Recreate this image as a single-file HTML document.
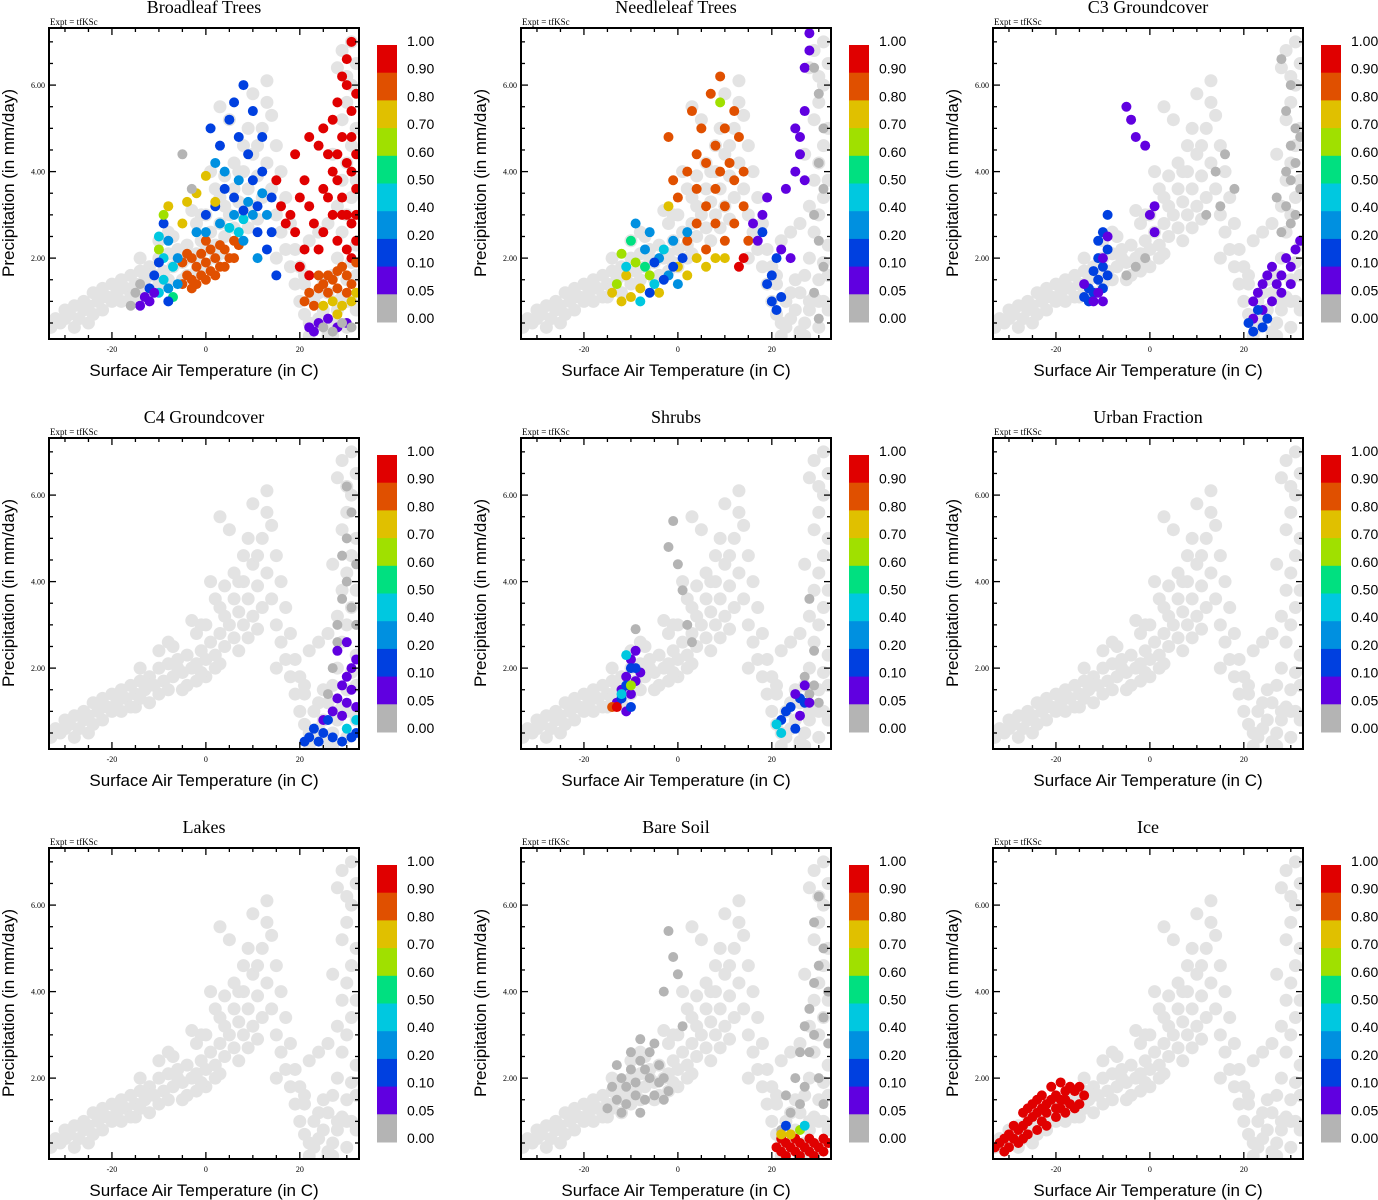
<!DOCTYPE html>
<html><head><meta charset="utf-8">
<style>
html,body{margin:0;padding:0;background:#fff;}
svg{display:block;}
text{fill:#000;}
.ttl{font-family:"Liberation Serif",serif;font-size:18px;}
.exp{font-family:"Liberation Serif",serif;font-size:9px;}
.tk{font-family:"Liberation Serif",serif;font-size:8px;}
.lab{font-family:"Liberation Sans",sans-serif;font-size:17px;}
.cb{font-family:"Liberation Sans",sans-serif;font-size:14px;}
</style></head>
<body>
<svg id="chart" width="1378" height="1200" viewBox="0 0 1378 1200" xmlns="http://www.w3.org/2000/svg"></svg>
<script>
// ---- data ----
const panelTitles = ["Broadleaf Trees","Needleleaf Trees","C3 Groundcover","C4 Groundcover","Shrubs","Urban Fraction","Lakes","Bare Soil","Ice"];
const cbLabels = ["1.00","0.90","0.80","0.70","0.60","0.50","0.40","0.20","0.10","0.05","0.00"];
const cbLevels = [1.0,0.9,0.8,0.7,0.6,0.5,0.4,0.2,0.1,0.05,0.0];
const cbColors = ["#e00000","#e05000","#e0c000","#a0e000","#00e080","#00c8e0","#0090e0","#0040e0","#6000e0","#b4b4b4"];
const xTicks = [-20,0,20];
const yTicks = [2,4,6];
// base cloud [temp, precip]
const baseT = [-33,-32,-31,-30,-29,-28,-27,-26,-25,-24,-23,-22,-21,-20,-19,-18,-17,-16,-15,-14,-13,-12,-11,-10,-9,-8,-7,-6,-5,-4,-3,-2,-1,0,1,2,3,4,5,6,7,8,9,10,11,12,13,14,15,16,17,18,19,20,21,22,23,
 -28,-25,-22,-18,-15,-12,-10,-8,-14,-10,-8,-5,-2,0,2,4,2,0,-2,6,8,5,3,12,14,10,13,8,10,16,17,18,15,19,20,21,22,23,24,
 26,27,28,29,30,31,32,26,27,28,29,30,31,32,28,29,30,31,32,29,30,31,28,29,30,27,26,25,24,27,30,32,31,32,31,
 -30,-26,-22,-18,-14,-12,-6,-4,-1,3,7,11,9,6,4,1,-3,-7,-16,-20,-24,15,13,11,9,7,3,-1,25,24,22,21,26,28,30,32];
const baseP = [0.4,0.6,0.5,0.8,0.7,0.9,0.6,1.0,0.9,1.2,1.0,1.3,1.1,1.4,1.2,1.5,1.3,1.6,1.4,1.7,1.5,1.8,1.6,2.0,1.7,2.1,1.8,2.2,1.9,2.3,2.0,2.1,2.4,2.2,2.6,2.3,2.8,2.5,3.0,2.7,3.3,3.0,3.6,3.2,3.9,3.4,4.2,3.6,3.0,2.6,2.2,1.8,1.4,1.0,0.7,0.5,0.4,
 0.4,0.5,0.8,1.0,1.1,1.2,1.4,1.5,2.0,2.4,2.6,1.5,1.7,1.8,2.0,3.2,3.6,3.0,2.8,4.2,4.6,5.2,5.5,5.0,5.3,5.8,6.1,4.0,4.4,4.0,3.4,2.8,2.0,2.2,1.8,1.4,2.4,1.0,0.6,
 0.3,0.5,0.8,1.1,1.5,1.9,2.3,1.2,1.6,2.0,2.6,3.0,3.4,3.8,3.2,3.8,4.2,4.6,5.0,5.2,5.6,6.0,6.4,6.8,6.2,4.4,2.8,1.5,1.2,0.2,0.4,0.8,1.0,6.5,7.0,
 0.6,0.8,1.1,1.3,1.3,1.6,2.0,1.6,1.9,2.1,2.4,2.9,2.7,3.6,3.9,4.0,3.1,2.5,1.1,1.0,0.7,4.6,5.6,4.6,5.0,4.0,3.4,3.0,0.8,2.6,0.2,1.6,0.2,1.0,1.0,1.6];
// overlays per panel: temps, precips, fraction values
const blT=[22,24,25,26,27,28,29,30,31,30,31,32,29,30,31,32,28,29,30,31,32,27,26,25,24,23,22,21,20,19,18,17,16,15,19,21,20,22,28,31,32,30,27,25,29,32,31,28,
 21,22,23,24,25,26,27,28,29,30,31,32,26,28,30,24,25,27,29,31,32,28,22,24,23,26,28,30,27,29,31,25,
 -5,-4,-3,-2,-1,0,1,2,3,4,5,6,-5,-4,-3,-2,-1,0,1,2,3,4,-3,0,6,7,
 -10,-9,-8,-7,-6,-9,-8,-7,-10,-6,5,7,8,
 -12,-11,-10,-8,-9,0,2,4,6,8,10,12,14,11,13,9,7,5,3,6,8,10,12,1,14,15,11,
 0,3,6,9,12,2,4,7,10,8,11,-2,13,-14,-13,-12,-11,-8,-4,-2,-5,2,0,-9,-10,-16,-15,-14,-5,-3];
const blP=[4.8,4.6,5.0,4.4,5.2,5.6,6.2,6.6,7.0,6.0,5.4,5.8,4.8,4.2,4.0,3.6,3.8,3.4,3.0,2.8,3.0,3.0,3.4,2.6,2.2,2.8,3.2,3.8,3.4,2.6,3.0,2.8,3.2,3.8,4.4,2.2,1.8,1.6,2.4,2.0,2.4,2.2,4.0,3.6,3.0,4.4,4.8,4.4,
 1.0,1.2,0.9,1.3,1.4,1.6,1.5,1.7,1.8,1.6,1.4,1.9,1.2,1.3,1.2,1.6,0.9,1.0,0.9,1.0,1.2,0.7,0.4,0.5,0.3,0.6,0.4,0.5,0.3,0.5,0.4,0.4,
 1.4,1.6,1.5,1.8,1.6,1.9,1.7,2.0,1.8,2.2,2.0,2.4,1.9,2.1,2.0,1.4,2.1,1.5,2.2,1.6,2.3,1.8,1.3,2.4,2.0,2.3,
 1.2,1.5,1.3,1.8,1.4,2.0,2.4,1.1,2.5,2.0,2.7,2.6,2.9,
 1.3,1.6,1.9,1.0,2.8,3.0,3.2,3.6,3.4,3.1,3.8,4.0,3.4,2.6,2.2,4.4,4.8,5.2,4.6,5.6,6.0,5.4,4.8,5.0,2.6,1.6,3.2,
 2.6,2.8,3.0,3.3,3.5,4.2,4.0,3.8,3.0,2.4,2.0,2.6,3.0,0.9,1.1,1.0,1.2,3.2,3.3,3.5,2.8,3.3,3.9,3.0,2.2,0.9,1.2,1.4,4.4,3.6];
const blV=[0.95,0.95,0.95,0.95,0.95,0.95,0.95,0.95,0.95,0.95,0.95,0.95,0.95,0.95,0.95,0.95,0.95,0.95,0.95,0.95,0.95,0.95,0.95,0.95,0.95,0.95,0.95,0.95,0.95,0.95,0.95,0.95,0.95,0.95,0.95,0.95,0.95,0.95,0.95,0.95,0.95,0.95,0.95,0.95,0.95,0.95,0.95,0.95,
 0.85,0.85,0.85,0.85,0.85,0.85,0.85,0.85,0.85,0.85,0.85,0.85,0.85,0.85,0.85,0.85,0.75,0.75,0.75,0.75,0.75,0.75,0.07,0.07,0.07,0.07,0.07,0.07,0.0,0.0,0.0,0.0,
 0.85,0.85,0.85,0.85,0.85,0.85,0.85,0.85,0.85,0.85,0.85,0.85,0.85,0.85,0.85,0.85,0.85,0.85,0.85,0.85,0.85,0.85,0.85,0.85,0.85,0.85,
 0.45,0.45,0.3,0.45,0.3,0.45,0.3,0.55,0.45,0.3,0.45,0.45,0.45,
 0.15,0.15,0.15,0.15,0.15,0.15,0.15,0.15,0.15,0.15,0.15,0.15,0.15,0.15,0.15,0.15,0.15,0.15,0.15,0.15,0.15,0.15,0.15,0.15,0.15,0.15,0.15,
 0.3,0.3,0.3,0.3,0.3,0.3,0.3,0.3,0.3,0.3,0.3,0.3,0.3,0.07,0.07,0.07,0.07,0.75,0.75,0.75,0.75,0.75,0.75,0.65,0.65,0.0,0.0,0.0,0.0,0.0];
const nlT=[2,4,6,8,10,12,14,6,8,10,4,2,0,3,5,7,9,12,13,11,8,10,12,14,15,6,4,-2,-1,9,
 -12,-14,-10,-8,-11,0,2,4,-4,6,-2,8,10,-13,-9,-12,-6,9,-10,-7,-11,-8,-5,-3,
 -9,-6,-4,-2,0,-7,2,-1,-5,-3,-1,1,-6,18,19,20,21,22,20,21,
 16,18,17,22,24,23,25,26,27,26,25,27,28,27,28,19,14,13,29,30,30,31,29,30,31,29,30,31];
const nlP=[2.4,2.8,3.2,3.6,3.2,3.8,4.0,4.2,4.6,5.0,4.4,4.0,3.4,5.4,5.0,5.8,6.2,5.4,4.8,4.2,2.8,2.4,2.8,3.2,2.4,2.2,3.6,4.8,3.8,4.0,
 1.0,1.2,1.1,1.3,1.6,1.8,1.6,2.0,1.2,1.8,3.2,2.0,2.0,1.4,1.9,2.1,1.6,5.6,2.4,1.8,1.8,1.0,1.4,2.2,
 2.8,2.6,2.0,1.6,1.4,2.2,2.6,2.4,1.9,1.5,1.8,2.0,1.2,2.6,1.4,1.0,0.8,1.1,1.6,2.0,
 2.8,3.0,2.4,2.2,2.0,3.6,4.0,4.4,3.8,4.8,5.0,6.4,6.8,5.4,7.2,3.4,2.0,1.8,6.4,5.8,4.2,3.6,3.0,2.4,1.8,1.2,0.6,5.0];
const nlV=[0.85,0.85,0.85,0.85,0.85,0.85,0.85,0.85,0.85,0.85,0.85,0.85,0.85,0.85,0.85,0.85,0.85,0.85,0.85,0.85,0.85,0.85,0.85,0.85,0.85,0.85,0.85,0.85,0.85,0.85,
 0.75,0.75,0.75,0.75,0.75,0.75,0.75,0.75,0.75,0.75,0.75,0.75,0.75,0.65,0.65,0.65,0.65,0.65,0.55,0.55,0.45,0.45,0.45,0.45,
 0.3,0.3,0.3,0.3,0.3,0.3,0.3,0.3,0.15,0.15,0.15,0.15,0.15,0.15,0.15,0.15,0.15,0.15,0.15,0.15,
 0.07,0.07,0.07,0.07,0.07,0.07,0.07,0.07,0.07,0.07,0.07,0.07,0.07,0.07,0.07,0.07,0.95,0.95,0.0,0.0,0.0,0.0,0.0,0.0,0.0,0.0,0.0,0.0];
const c3T=[-14,-13,-12,-11,-10,-9,-10,-9,-11,-12,-13,-10,-9,-11,-14,-12,-11,-10,-9,-10,-5,-4,-3,-1,0,1,1,-5,-3,-1,14,16,15,18,12,
 22,23,24,25,26,27,28,29,30,31,26,28,30,32,24,22,21,22,23,24,25,28,29,30,31,32,30,31,29,30,28,31,32,30,29,27];
const c3P=[1.1,1.3,1.2,1.5,1.8,2.2,2.6,3.0,2.0,1.7,1.0,1.3,1.6,2.4,1.4,1.0,1.2,2.0,2.5,1.0,5.5,5.2,4.8,4.6,3.0,2.6,3.2,1.6,1.8,2.0,4.0,4.4,3.2,3.6,3.0,
 1.0,1.2,1.4,1.6,1.8,1.4,1.6,2.0,1.8,2.2,1.0,1.2,1.4,2.4,0.8,0.6,0.5,0.3,0.8,0.4,0.6,2.6,3.2,3.8,4.2,3.6,4.6,5.0,5.4,6.0,6.6,3.0,4.8,2.8,4.0,3.4];
const c3V=[0.15,0.15,0.15,0.15,0.15,0.15,0.15,0.15,0.15,0.15,0.15,0.15,0.15,0.15,0.07,0.07,0.07,0.07,0.07,0.07,0.07,0.07,0.07,0.07,0.07,0.07,0.07,0.0,0.0,0.0,0.0,0.0,0.0,0.0,0.0,
 0.07,0.07,0.07,0.07,0.07,0.07,0.07,0.07,0.07,0.07,0.07,0.07,0.07,0.07,0.07,0.07,0.15,0.15,0.15,0.15,0.15,0.0,0.0,0.0,0.0,0.0,0.0,0.0,0.0,0.0,0.0,0.0,0.0,0.0,0.0,0.0];
const c4T=[27,28,29,30,31,32,30,31,30,29,28,32,26,25,27,28,29,30,31,32,30,31,32,29,28,30,21,22,24,25,27,29,31,32,23,26,30,32];
const c4P=[2.0,3.0,3.6,4.0,3.4,4.4,5.0,5.6,6.2,4.6,2.6,3.0,1.4,0.8,1.0,1.3,1.6,1.8,2.0,2.2,1.2,1.5,1.1,0.9,2.4,2.6,0.3,0.4,0.3,0.5,0.4,0.3,0.4,0.5,0.6,0.8,0.6,0.8];
const c4V=[0,0,0,0,0,0,0,0,0,0,0,0,0,0.07,0.07,0.07,0.07,0.07,0.07,0.07,0.07,0.07,0.07,0.07,0.07,0.07,0.15,0.15,0.15,0.15,0.15,0.15,0.15,0.15,0.15,0.15,0.45,0.45];
const shT=[-9,-1,-2,0,1,2,3,27,28,29,30,28,29,-13,-12,-11,-10,-9,-10,-9,-8,-11,-12,-11,-10,-9,-10,-12,-11,-10,-14,-13,22,23,24,25,26,27,25,26,27,28,21,22];
const shP=[2.9,5.4,4.8,4.4,3.8,3.0,2.6,1.8,1.4,1.6,1.2,3.6,2.4,1.2,1.5,1.8,2.2,2.4,1.4,1.7,1.9,1.0,1.3,1.6,2.0,2.0,1.1,1.4,2.3,1.6,1.1,1.1,0.8,1.0,1.1,0.6,1.3,1.2,1.4,0.9,1.6,1.2,0.7,0.5];
const shV=[0,0,0,0,0,0,0,0,0,0,0,0,0,0.07,0.07,0.07,0.07,0.07,0.07,0.07,0.07,0.07,0.15,0.15,0.15,0.15,0.15,0.45,0.45,0.65,0.85,0.95,0.15,0.15,0.15,0.15,0.15,0.15,0.07,0.07,0.07,0.07,0.45,0.45];
const bsT=[-15,-13,-11,-9,-7,-5,-3,-14,-12,-10,-8,-6,-4,-12,-8,-10,-8,-6,-4,-13,-9,-7,-5,-3,-11,-2,-2,-1,0,1,-3,
 22,24,23,25,26,27,28,29,30,31,29,30,31,28,32,27,30,32,29,31,26,
 21,22,23,24,25,26,27,28,29,30,31,32,23,26,29,22,25,28,31,22,24,26,23,27];
const bsP=[1.3,1.5,1.4,1.6,1.5,1.6,1.5,1.8,2.0,2.2,2.4,2.0,1.9,1.2,1.2,2.6,2.9,2.6,2.3,2.3,1.9,2.2,2.8,2.0,1.8,1.7,5.4,4.8,4.4,3.2,4.0,
 0.8,1.2,1.6,2.0,2.6,3.2,3.6,4.2,4.6,5.0,5.6,6.2,3.4,2.6,4.0,1.8,2.0,2.8,3.0,1.4,1.4,
 0.4,0.3,0.5,0.4,0.3,0.5,0.4,0.3,0.5,0.4,0.6,0.5,0.2,0.2,0.2,0.6,0.6,0.6,0.3,0.7,0.7,0.8,0.9,0.9];
const bsV=[0,0,0,0,0,0,0,0,0,0,0,0,0,0,0,0,0,0,0,0,0,0,0,0,0,0,0,0,0,0,0,
 0,0,0,0,0,0,0,0,0,0,0,0,0,0,0,0,0,0,0,0,0,
 0.95,0.95,0.95,0.95,0.95,0.95,0.95,0.95,0.95,0.95,0.95,0.95,0.95,0.95,0.95,0.95,0.95,0.95,0.95,0.75,0.75,0.65,0.15,0.45];
const icT=[-33,-32,-31,-30,-29,-28,-27,-26,-25,-24,-23,-22,-21,-20,-19,-18,-17,-16,-15,-14,-30,-28,-26,-24,-22,-20,-18,-16,-29,-27,-25,-23,-21,-19,-17,-15,-31,-27,-23,-19,-24,-20,-22,-26,-18];
const icP=[0.4,0.5,0.6,0.7,0.6,0.8,0.9,1.0,1.1,1.2,1.3,1.4,1.5,1.6,1.5,1.7,1.8,1.7,1.8,1.6,0.4,0.5,0.7,0.8,0.9,1.1,1.2,1.3,0.9,1.2,1.4,1.6,1.8,1.9,1.4,1.4,0.3,0.6,1.0,1.3,1.5,1.3,1.2,1.3,1.5];
const icV=icT.map(()=>0.95);
const overT=[blT,nlT,c3T,c4T,shT,[],[],bsT,icT];
const overP=[blP,nlP,c3P,c4P,shP,[],[],bsP,icP];
const overV=[blV,nlV,c3V,c4V,shV,[],[],bsV,icV];

// ---- drawing ----
const svg=document.getElementById('chart');
const NS='http://www.w3.org/2000/svg';
function mk(tag,attrs,parent){const e=document.createElementNS(NS,tag);for(const k in attrs)e.setAttribute(k,attrs[k]);(parent||svg).appendChild(e);return e;}
const PW=310,PH=311,XMIN=-33.4,XMAX=32.6,YMIN=0.13,YMAX=7.32;
function colorFor(v){for(let i=0;i<cbLevels.length-1;i++){if(v>=cbLevels[i+1]&&v<=cbLevels[i]) return cbColors[i];}return cbColors[cbColors.length-1];}
panelTitles.forEach((title,idx)=>{
  const c=idx%3,r=Math.floor(idx/3);
  const x0=49+472*c,y0=28+410*r;
  const sx=t=>x0+(t-XMIN)/(XMAX-XMIN)*PW;
  const sy=p=>y0+PH-(p-YMIN)/(YMAX-YMIN)*PH;
  const g=mk('g',{});
  
  
  const t=mk('text',{x:x0+155,y:y0-15,'text-anchor':'middle',class:'ttl'},g);t.textContent=title;
  
  
  const ex=mk('text',{x:x0+1,y:y0-3,class:'exp'},g);ex.textContent='Expt = tfKSc';
  
  
  const clip='clip'+idx;
  const cp=mk('clipPath',{id:clip},g);mk('rect',{x:x0,y:y0,width:PW,height:PH},cp);
  const pts=mk('g',{'clip-path':'url(#'+clip+')'},g);
  for(let i=0;i<baseT.length;i++){
    const d=mk('circle',{cx:sx(baseT[i]),cy:sy(baseP[i]),r:6.5,fill:'#e3e3e3'},pts);
    
    
  }
  const T=overT[idx],P=overP[idx],V=overV[idx];
  for(let i=0;i<T.length;i++){
    const d=mk('circle',{cx:sx(T[i]),cy:sy(P[i]),r:5,fill:colorFor(V[i])},pts);
    
    
  }
  // frame
  const fr=mk('rect',{x:x0,y:y0,width:PW,height:PH,fill:'none',stroke:'#000','stroke-width':2},g);
  
  
  for(let v=-30;v<=30;v+=5){const X=sx(v),L=(v%20===0)?7:4;mk('line',{x1:X,x2:X,y1:y0+PH,y2:y0+PH-L,stroke:'#000','stroke-width':1.3},g);mk('line',{x1:X,x2:X,y1:y0,y2:y0+L,stroke:'#000','stroke-width':1.3},g);}
  for(let v=0.5;v<=7;v+=0.5){const Y=sy(v),L=(v%2===0)?7:4;mk('line',{x1:x0,x2:x0+L,y1:Y,y2:Y,stroke:'#000','stroke-width':1.3},g);mk('line',{x1:x0+PW,x2:x0+PW-L,y1:Y,y2:Y,stroke:'#000','stroke-width':1.3},g);}
  xTicks.forEach(v=>{const tl=mk('text',{x:sx(v),y:y0+PH+13,'text-anchor':'middle',class:'tk'},g);tl.textContent=String(v);
    
    });
  yTicks.forEach(v=>{const tl=mk('text',{x:x0-4,y:sy(v)+3,'text-anchor':'end',class:'tk'},g);tl.textContent=v.toFixed(2);
    
    });
  const xl=mk('text',{x:x0+155,y:y0+PH+37,'text-anchor':'middle',class:'lab'},g);xl.textContent='Surface Air Temperature (in C)';
  
  
  const yl=mk('text',{x:0,y:0,'text-anchor':'middle',class:'lab',transform:'translate('+(x0-35)+','+(y0+155)+') rotate(-90)'},g);yl.textContent='Precipitation (in mm/day)';
  
  
  // colorbar
  const cbx=x0+328,cby=y0+17,bh=27.7;
  cbColors.forEach((col,i)=>{const b=mk('rect',{x:cbx,y:cby+i*bh,width:20,height:bh+0.5,fill:col},g);
    
    });
  cbLabels.forEach((lab,i)=>{const tl=mk('text',{x:cbx+30,y:cby+i*bh+1,class:'cb'},g);tl.textContent=lab;
    
    });
});
</script>
</body></html>
